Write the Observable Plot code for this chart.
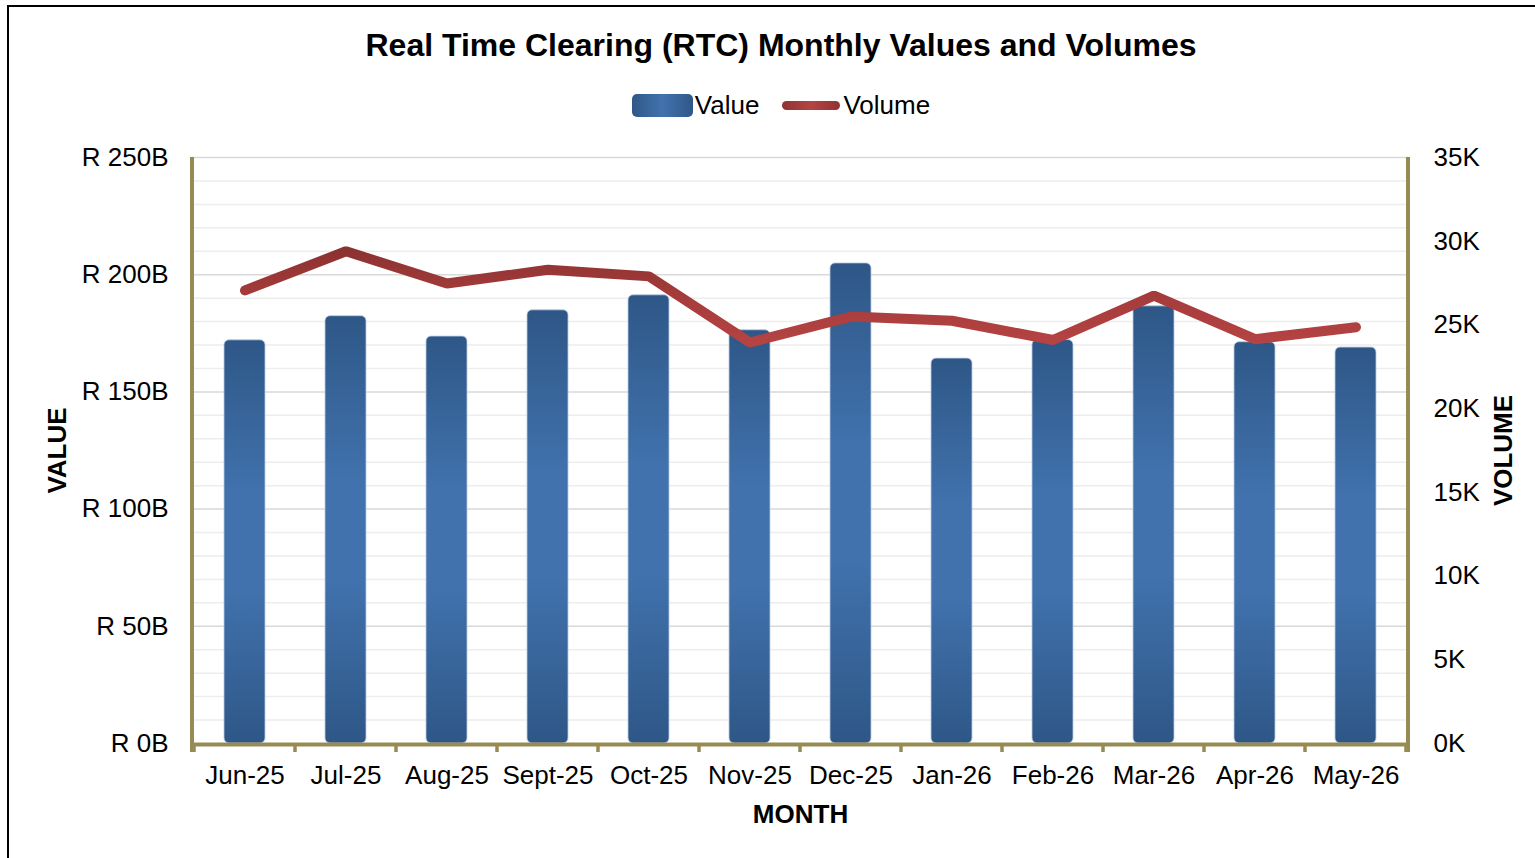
<!DOCTYPE html>
<html>
<head>
<meta charset="utf-8">
<script src="https://cdn.jsdelivr.net/npm/d3@7"></script>
<script src="https://cdn.jsdelivr.net/npm/@observablehq/plot@0.6"></script>
<style>
  html, body { margin: 0; padding: 0; overflow: hidden; background: #fff; }
  body { width: 1535px; height: 858px; position: relative; font-family: "Liberation Sans", Arial, sans-serif; color: #000; }
  #frame { position: absolute; left: 7px; top: 5px; width: 1700px; height: 1000px; border: 2px solid #000; box-sizing: border-box; pointer-events: none; }
  #title { position: absolute; left: 0; top: 29px; width: 1562px; text-align: center; font-weight: bold; font-size: 32px; line-height: 33px; }
  #legend { position: absolute; left: 0; top: 90px; width: 1562px; height: 30px; display: flex; justify-content: center; align-items: center; font-size: 26px; }
  .sw-value { width: 61px; height: 23px; border-radius: 5px; background: linear-gradient(90deg, #2f5888 0%, #4272ad 50%, #2f5888 100%); margin-right: 2px; }
  .sw-volume { width: 58px; height: 9px; border-radius: 5px; background: linear-gradient(90deg, #8e3332 0%, #b54444 50%, #8e3332 100%); margin-left: 23px; margin-right: 3px; }
  #chart { position: absolute; left: 0; top: 130px; }
</style>
</head>
<body>
<div id="frame"></div>
<div id="title">Real Time Clearing (RTC) Monthly Values and Volumes</div>
<div id="legend"><div class="sw-value"></div><span>Value</span><div class="sw-volume"></div><span>Volume</span></div>
<svg width="0" height="0" style="position:absolute">
  <defs>
    <linearGradient id="barGrad" x1="0" y1="0" x2="0" y2="1">
      <stop offset="0" stop-color="#2e5787"/>
      <stop offset="0.38" stop-color="#4172ad"/>
      <stop offset="0.62" stop-color="#4172ad"/>
      <stop offset="1" stop-color="#2e5787"/>
    </linearGradient>
    <linearGradient id="lineGrad" x1="0" y1="0" x2="0" y2="1">
      <stop offset="0" stop-color="#8c3231"/>
      <stop offset="0.5" stop-color="#a53c3b"/>
      <stop offset="1" stop-color="#b54343"/>
    </linearGradient>
  </defs>
</svg>
<div id="chart"></div>
<script>
// ---- data ----
const months = ["Jun-25","Jul-25","Aug-25","Sept-25","Oct-25","Nov-25","Dec-25","Jan-26","Feb-26","Mar-26","Apr-26","May-26"];
const values = [172.0, 182.3, 173.6, 184.8, 191.2, 176.3, 204.8, 164.2, 172.1, 186.5, 171.2, 168.9]; // R billions
const volumes = [27060, 29400, 27470, 28300, 27900, 23950, 25500, 25250, 24100, 26750, 24150, 24860];
const valueTicks = [0, 50, 100, 150, 200, 250];
const valueTickLabels = ["R 0B", "R 50B", "R 100B", "R 150B", "R 200B", "R 250B"];
const volumeTicks = [0, 5000, 10000, 15000, 20000, 25000, 30000, 35000];
const volumeTickLabels = ["0K", "5K", "10K", "15K", "20K", "25K", "30K", "35K"];
const minorGrid = [10, 20, 30, 40, 60, 70, 80, 90, 110, 120, 130, 140, 160, 170, 180, 190, 210, 220, 230, 240];
const majorGrid = [50, 100, 150, 200, 250];
const valueMax = 250, volumeMax = 35000;

const toValueScale = v => v * valueMax / volumeMax;
const rows = months.map((m, i) => ({month: m, value: values[i], volume: volumes[i]}));

const axisColor = "#978b55";

function axisLines(index, scales, channels, dim) {
  const {x} = scales;
  const g = d3.create("svg:g");
  const left = dim.marginLeft, right = dim.width - dim.marginRight;
  const top = dim.marginTop, bottom = dim.height - dim.marginBottom;
  const bounds = months.map(m => x(m)).concat([x(months[months.length - 1]) + x.bandwidth()]);
  for (const b of bounds) {
    g.append("line").attr("x1", b).attr("x2", b).attr("y1", bottom).attr("y2", bottom + 9)
      .attr("stroke", axisColor).attr("stroke-width", 3.5);
  }
  g.append("line").attr("x1", left).attr("x2", left).attr("y1", top).attr("y2", bottom + 9)
    .attr("stroke", axisColor).attr("stroke-width", 4);
  g.append("line").attr("x1", right).attr("x2", right).attr("y1", top).attr("y2", bottom + 9)
    .attr("stroke", axisColor).attr("stroke-width", 4);
  g.append("line").attr("x1", left).attr("x2", right).attr("y1", bottom + 1.5).attr("y2", bottom + 1.5)
    .attr("stroke", axisColor).attr("stroke-width", 4);
  return g.node();
}

const chart = Plot.plot({
  width: 1535,
  height: 728,
  marginLeft: 192,
  marginRight: 127,
  marginTop: 27,
  marginBottom: 115,
  style: {fontFamily: "'Liberation Sans', Arial, sans-serif", fontSize: "26px", color: "#000", background: "transparent"},
  x: {type: "band", domain: months, padding: 0, label: null},
  y: {domain: [0, valueMax], label: null},
  marks: [
    Plot.ruleY(minorGrid, {stroke: "#ededed", strokeWidth: 1.5}),
    Plot.ruleY(majorGrid, {stroke: "#d9d9d9", strokeWidth: 1.5}),
    Plot.barY(rows, {x: "month", y: "value", fill: "url(#barGrad)", rx: 5, insetLeft: 30, insetRight: 30, stroke: "#b9cbe3", strokeWidth: 1, strokeOpacity: 0.8}),
    Plot.line(rows, {x: "month", y: d => toValueScale(d.volume), stroke: "url(#lineGrad)", strokeWidth: 10, strokeLinecap: "round", strokeLinejoin: "miter"}),
    axisLines,
    Plot.axisY(valueTicks, {anchor: "left", tickSize: 0, tickPadding: 24, fontSize: 26, tickFormat: (d, i) => valueTickLabels[i]}),
    Plot.axisY(volumeTicks.map(toValueScale), {anchor: "right", tickSize: 0, tickPadding: 25, fontSize: 26, tickFormat: (d, i) => volumeTickLabels[i]}),
    Plot.axisX({anchor: "bottom", tickSize: 0, tickPadding: 22, fontSize: 26}),
    Plot.text(["VALUE"], {text: d => d, frameAnchor: "left", textAnchor: "middle", lineAnchor: "middle", rotate: -90, dx: -135, fontWeight: "bold", fontSize: 26}),
    Plot.text(["VOLUME"], {text: d => d, frameAnchor: "right", textAnchor: "middle", lineAnchor: "middle", rotate: -90, dx: 95, fontWeight: "bold", fontSize: 26}),
    Plot.text(["MONTH"], {text: d => d, frameAnchor: "bottom", textAnchor: "middle", lineAnchor: "middle", dy: 71, fontWeight: "bold", fontSize: 26})
  ]
});
document.getElementById("chart").appendChild(chart);
</script>
</body>
</html>
